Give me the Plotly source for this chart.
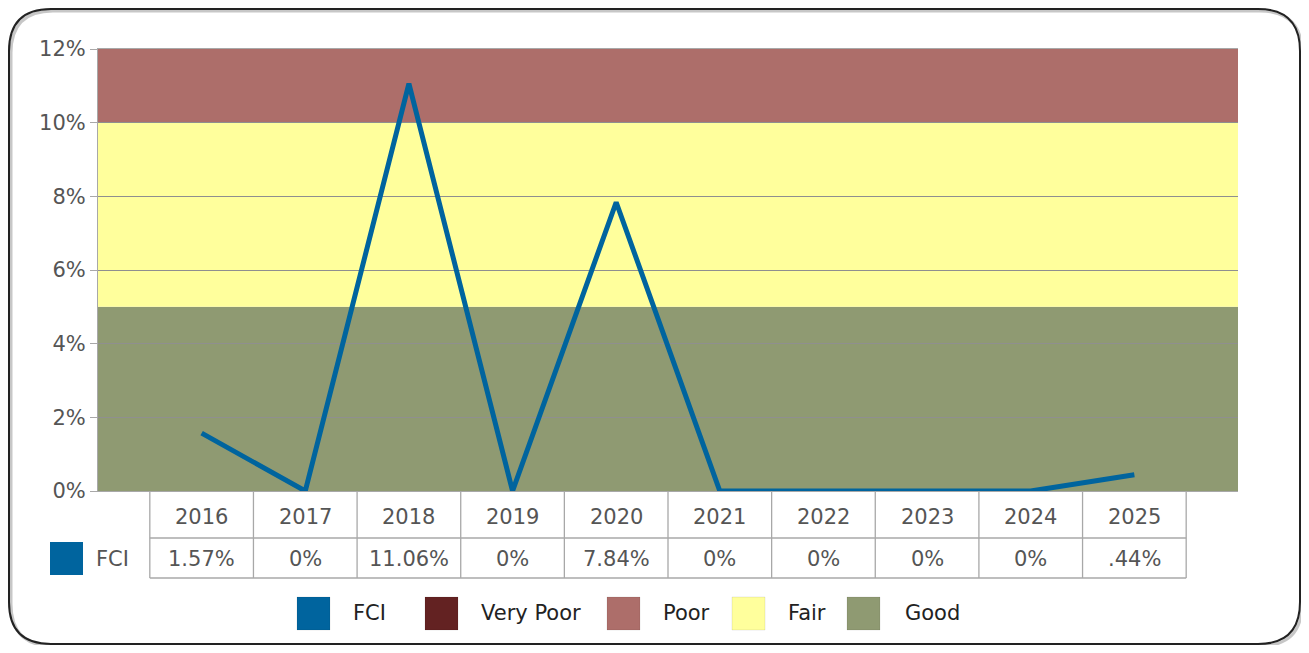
import plotly.graph_objects as go

years = ["2016", "2017", "2018", "2019", "2020", "2021", "2022", "2023", "2024", "2025"]
fci = [1.57, 0, 11.06, 0, 7.84, 0, 0, 0, 0, 0.44]
fci_text = ["1.57%", "0%", "11.06%", "0%", "7.84%", "0%", "0%", "0%", "0%", ".44%"]

band_names = ["Good", "Fair", "Poor"]
band_low = [0, 5, 10]
band_high = [5, 10, 12]
band_colors = ["#8f9a72", "#ffff9c", "#ad6e6a"]

legend_names = ["FCI", "Very Poor", "Poor", "Fair", "Good"]
legend_colors = ["#00649e", "#632222", "#ad6e6a", "#ffff9c", "#8f9a72"]

# page has an 8px body margin, so the figure itself is a little smaller
W, H = 1293, 637
L, R, T, B = 90, 63, 41, 154
PW, PH = W - L - R, H - T - B
FONT = "DejaVu Sans"
FS = 21
GRAY = "#555555"
LINE = "#a8a8a8"


# page pixel -> paper fraction
def px(x):
    return (x - 98) / PW


def py(y):
    return (491 - y) / PH


fig = go.Figure()
fig.add_trace(go.Scatter(
    x=years, y=fci, mode="lines",
    line=dict(color="#00649e", width=5),
    showlegend=False, hoverinfo="x+y",
))

shapes = []
for lo, hi, col in zip(band_low, band_high, band_colors):
    shapes.append(dict(type="rect", xref="paper", yref="y", x0=0, x1=1, y0=lo, y1=hi,
                       fillcolor=col, line_width=0, layer="below"))

# data table under the plot
row1, row2 = py(538), py(578)
n = len(years)
for i in range(n + 1):
    shapes.append(dict(type="line", xref="x", yref="paper", x0=i - 0.5, x1=i - 0.5,
                       y0=0, y1=row2, line=dict(color=LINE, width=1.3)))
for yy in (row1, row2):
    shapes.append(dict(type="line", xref="x", yref="paper", x0=-0.5, x1=n - 0.5,
                       y0=yy, y1=yy, line=dict(color=LINE, width=1.3)))

annotations = []
for i, (yr, txt) in enumerate(zip(years, fci_text)):
    for text, yy in ((yr, py(517)), (txt, py(559))):
        annotations.append(dict(x=i, xref="x", y=yy, yref="paper", text=text,
                                xanchor="center", yanchor="middle", showarrow=False,
                                font=dict(family=FONT, size=FS, color=GRAY)))

# table series key
shapes.append(dict(type="rect", xref="paper", yref="paper", x0=px(50), x1=px(83),
                   y0=py(575), y1=py(542), fillcolor="#00649e", line_width=0))
annotations.append(dict(x=px(94), xref="paper", y=py(559), yref="paper", text="FCI",
                        xanchor="left", yanchor="middle", showarrow=False,
                        font=dict(family=FONT, size=FS, color=GRAY)))

# bottom legend
sq_x = [297, 425, 607, 732, 847]
lab_x = [351, 479, 661, 786, 903]
for name, col, sx, lx in zip(legend_names, legend_colors, sq_x, lab_x):
    shapes.append(dict(type="rect", xref="paper", yref="paper", x0=px(sx), x1=px(sx + 33),
                       y0=py(630), y1=py(597), fillcolor=col,
                       line=dict(color="rgba(0,0,0,0.08)", width=1)))
    annotations.append(dict(x=px(lx), xref="paper", y=py(613), yref="paper", text=name,
                            xanchor="left", yanchor="middle", showarrow=False,
                            font=dict(family=FONT, size=FS, color="#222222")))


# rounded frame (page pixels)
def rounded(x0, y0, x1, y1, r):
    return (f"M {px(x0 + r)} {py(y0)} L {px(x1 - r)} {py(y0)} "
            f"Q {px(x1)} {py(y0)} {px(x1)} {py(y0 + r)} "
            f"L {px(x1)} {py(y1 - r)} Q {px(x1)} {py(y1)} {px(x1 - r)} {py(y1)} "
            f"L {px(x0 + r)} {py(y1)} Q {px(x0)} {py(y1)} {px(x0)} {py(y1 - r)} "
            f"L {px(x0)} {py(y0 + r)} Q {px(x0)} {py(y0)} {px(x0 + r)} {py(y0)} Z")


shapes.append(dict(type="path", xref="paper", yref="paper", path=rounded(11, 11, 1302, 646, 42),
                   line=dict(color="rgba(0,0,0,0.22)", width=3), layer="below"))
shapes.append(dict(type="path", xref="paper", yref="paper", path=rounded(9, 9, 1300, 644, 42),
                   line=dict(color="#222222", width=2), layer="below"))

fig.update_layout(
    width=W, height=H,
    margin=dict(l=L, r=R, t=T, b=B),
    paper_bgcolor="white", plot_bgcolor="white",
    shapes=shapes, annotations=annotations,
    showlegend=False,
    xaxis=dict(type="category", categoryorder="array", categoryarray=years,
               range=[-1, n], showticklabels=False, showgrid=False, zeroline=False,
               showline=True, linecolor=LINE, mirror=True, ticks=""),
    yaxis=dict(range=[0, 12], dtick=2, ticksuffix="%", showgrid=True, gridcolor="#8f8f8f",
               gridwidth=1, zeroline=False, showline=True, linecolor=LINE, ticks="outside",
               ticklen=7, tickcolor=LINE, tickfont=dict(family=FONT, size=FS, color=GRAY)),
)

fig.write_html("out.html")
